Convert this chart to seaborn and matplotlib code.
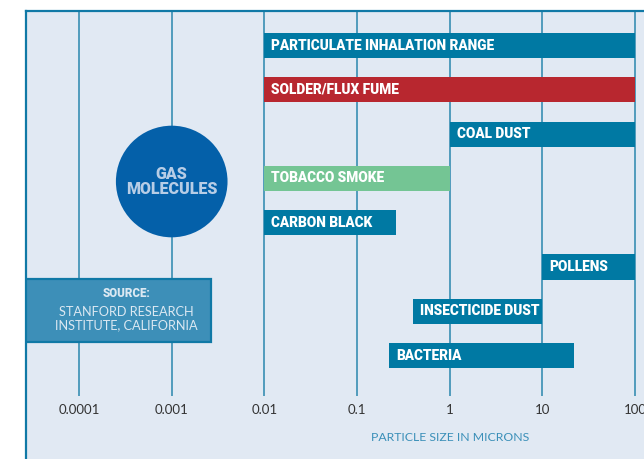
import numpy as np
import pandas as pd
import matplotlib
matplotlib.use("Agg")
import matplotlib.pyplot as plt
import seaborn as sns
from matplotlib.patches import Rectangle

# particle size ranges in microns
labels = ["PARTICULATE INHALATION RANGE", "SOLDER/FLUX FUME", "COAL DUST",
          "TOBACCO SMOKE", "CARBON BLACK", "POLLENS", "INSECTICIDE DUST", "BACTERIA"]
size_min = [0.01, 0.01, 1, 0.01, 0.01, 10, 0.4, 0.22]
size_max = [100, 100, 100, 1, 0.26, 100, 10, 22]
bar_colors = ["#0079a3", "#b8272f", "#0079a3", "#74c594", "#0079a3",
              "#0079a3", "#0079a3", "#0079a3"]

tick_values = [0.0001, 0.001, 0.01, 0.1, 1, 10, 100]
tick_labels = ["0.0001", "0.001", "0.01", "0.1", "1", "10", "100"]

gas_size = 0.001
gas_row = 3.07

df = pd.DataFrame({"label": labels, "lo": size_min, "hi": size_max, "color": bar_colors})
df["row"] = np.arange(len(df))

sns.set_style("white")
plt.rcParams["font.family"] = ["Lato", "DejaVu Sans"]
heavy = ["Roboto", "DejaVu Sans"]

grid_col = "#2a87ad"
bg = "#e1e9f3"

fig = plt.figure(figsize=(6.44, 4.59), dpi=100)
ax = fig.add_axes([26 / 644, 0, 1 - 26 / 644, 1 - 11 / 459])
ax.set_facecolor(bg)
ax.set_xscale("log")
ax.set_xlim(10 ** -4.572, 10 ** 2.095)
ax.set_ylim(9.334, -0.779)

# vertical decade lines
ax.vlines(tick_values, -0.779, 7.91, color=grid_col, lw=1.1, zorder=1)

# range bars
ax.barh(df["row"], df["hi"] - df["lo"], left=df["lo"], height=0.565,
        color=df["color"], linewidth=0, zorder=2)
for _, r in df.iterrows():
    ax.annotate(r["label"], (r["lo"], r["row"]), xytext=(5, 0),
                textcoords="offset points", ha="left", va="center",
                color="white", fontsize=9.8, fontweight=900, family=heavy, zorder=3)

# gas molecules bubble
sns.scatterplot(x=[gas_size], y=[gas_row], s=6460, color="#0460a9",
                edgecolor="none", ax=ax, zorder=3, legend=False)
ax.text(gas_size, gas_row, "GAS\nMOLECULES", ha="center", va="center",
        color="#b7cde6", fontsize=11.5, fontweight=900, family=heavy,
        linespacing=0.95, zorder=4)

# source box
ax.add_patch(Rectangle((10 ** -4.572, 5.27), 10 ** -2.576 - 10 ** -4.572, 1.42,
                       facecolor="#3d8fb8", edgecolor="#1079a6", lw=1.6, zorder=3))
ax.text(10 ** -3.485, 5.59, "SOURCE:", ha="center", va="center", color="#dbe8f2",
        fontsize=8.3, fontweight=900, family=heavy, zorder=4)
ax.text(10 ** -3.485, 6.16, "STANFORD RESEARCH\nINSTITUTE, CALIFORNIA", ha="center",
        va="center", color="#dbe8f2", fontsize=9.2, linespacing=1.15, zorder=4)

# tick labels and axis title drawn inside the panel
for v, t in zip(tick_values, tick_labels):
    ax.text(v, 8.23, t, ha="center", va="center", color="#333333", fontsize=9.5)
ax.text(1, 8.84, "PARTICLE SIZE IN MICRONS", ha="center", va="center",
        color="#3a8fb8", fontsize=8.8)

ax.set_xticks([])
ax.set_yticks([])
ax.minorticks_off()
for s in ["right", "bottom"]:
    ax.spines[s].set_visible(False)
for s in ["top", "left"]:
    ax.spines[s].set_color("#1079a6")
    ax.spines[s].set_linewidth(1.6)

fig.savefig("out.png", dpi=100)
